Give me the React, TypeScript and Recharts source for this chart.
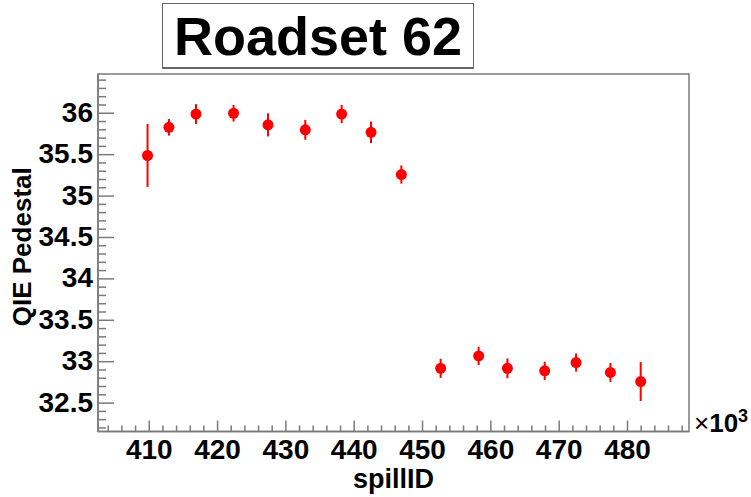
import React from "react";
import {
  ScatterChart,
  Scatter,
  XAxis,
  YAxis,
  ErrorBar,
  ReferenceArea,
} from "recharts";

// spillID in units of 10^3
const spillIds = [
  409.75, 412.88, 416.84, 422.34, 427.38, 432.84, 438.16, 442.46, 446.9,
  452.65, 458.21, 462.42, 467.88, 472.47, 477.5, 481.93,
];
const pedestal = [
  35.49, 35.83, 35.99, 36.0, 35.86, 35.8, 35.99, 35.77, 35.26,
  32.92, 33.07, 32.92, 32.89, 32.99, 32.87, 32.76,
];
const pedestalErr = [
  0.38, 0.1, 0.12, 0.1, 0.14, 0.12, 0.11, 0.13, 0.11,
  0.115, 0.11, 0.12, 0.11, 0.11, 0.115, 0.235,
];

const xMajorTicks = [410, 420, 430, 440, 450, 460, 470, 480];
const xMinorTicks = [404, 406, 408, 412, 414, 416, 418, 422, 424, 426, 428, 432, 434, 436, 438, 442, 444, 446, 448, 452, 454, 456, 458, 462, 464, 466, 468, 472, 474, 476, 478, 482, 484, 486, 488];
const yMajorTicks = [32.5, 33, 33.5, 34, 34.5, 35, 35.5, 36];
const yMinorTicks = [32.2, 32.3, 32.4, 32.6, 32.7, 32.8, 32.9, 33.1, 33.2, 33.3, 33.4, 33.6, 33.7, 33.8, 33.9, 34.1, 34.2, 34.3, 34.4, 34.6, 34.7, 34.8, 34.9, 35.1, 35.2, 35.3, 35.4, 35.6, 35.7, 35.8, 35.9, 36.1, 36.2, 36.3, 36.4];

const xDomain = [402.5, 489];
const yDomain = [32.157, 36.474];

const data = spillIds.map((x, i) => ({ x, y: pedestal[i], err: pedestalErr[i] }));

const FONT = "'Liberation Sans', Arial, Helvetica, sans-serif";
const AXIS = "#7a7a7a";

const isMajor = (v: number, list: number[]) => list.some((m) => Math.abs(m - v) < 1e-6);

const XTick = (props: any) => {
  const { x, y, payload } = props;
  const major = isMajor(payload.value, xMajorTicks);
  return (
    <g>
      <line x1={x} x2={x} y1={y} y2={y - (major ? 11 : 6)} stroke={AXIS} strokeWidth={1.5} />
      {major && (
        <text x={x} y={y + 27} textAnchor="middle" fontSize={28} fontWeight="bold" fontFamily={FONT} fill="#000">
          {payload.value}
        </text>
      )}
    </g>
  );
};

const YTick = (props: any) => {
  const { x, y, payload } = props;
  const major = isMajor(payload.value, yMajorTicks);
  return (
    <g>
      <line x1={x} x2={x + (major ? 16 : 8)} y1={y} y2={y} stroke={AXIS} strokeWidth={1.5} />
      {major && (
        <text x={x - 5} y={y + 8.5} textAnchor="end" fontSize={28} fontWeight="bold" fontFamily={FONT} fill="#000">
          {payload.value}
        </text>
      )}
    </g>
  );
};

const XLabel = (props: any) => {
  const { x, y, width } = props.viewBox;
  return (
    <g fontFamily={FONT}>
      <text x={x + width / 2} y={y + 56.5} textAnchor="middle" fontSize={27} fontWeight="bold" fill="#000">
        spillID
      </text>
      <text x={x + width + 5} y={y} fontSize={26} fill="#000">
        ×<tspan fontWeight="bold">10</tspan>
        <tspan fontSize={18} fontWeight="bold" dy={-10}>3</tspan>
      </text>
    </g>
  );
};

const YLabel = (props: any) => {
  const { x, y, height } = props.viewBox;
  const cx = x + 14;
  const cy = y + height / 2 - 6;
  return (
    <text
      x={cx}
      y={cy}
      transform={`rotate(-90 ${cx} ${cy})`}
      textAnchor="middle"
      dominantBaseline="central"
      fontSize={26}
      fontWeight="bold"
      fontFamily={FONT}
      fill="#000"
    >
      QIE Pedestal
    </text>
  );
};

const Dot = (props: any) => <circle cx={props.cx} cy={props.cy} r={5.5} fill="#ff0000" />;

export default function App() {
  return (
    <div style={{ position: "absolute", left: 0, top: 0, width: 751, height: 497, background: "#fff" }}>
      <ScatterChart width={751} height={497} margin={{ top: 74, right: 62, bottom: 5.5, left: 8 }}>
        <XAxis
          type="number"
          dataKey="x"
          domain={xDomain}
          allowDataOverflow
          ticks={[...xMajorTicks, ...xMinorTicks].sort((a, b) => a - b)}
          interval={0}
          tickSize={0}
          tickMargin={0}
          tick={<XTick />}
          tickLine={false}
          axisLine={{ stroke: AXIS, strokeWidth: 1.5 }}
          height={60}
          label={<XLabel />}
        />
        <YAxis
          type="number"
          dataKey="y"
          domain={yDomain}
          allowDataOverflow
          ticks={[...yMajorTicks, ...yMinorTicks].sort((a, b) => a - b)}
          interval={0}
          tickSize={0}
          tickMargin={0}
          tick={<YTick />}
          tickLine={false}
          axisLine={{ stroke: AXIS, strokeWidth: 1.5 }}
          width={90}
          label={<YLabel />}
        />
        <ReferenceArea
          x1={xDomain[0]}
          x2={xDomain[1]}
          y1={yDomain[0]}
          y2={yDomain[1]}
          fill="none"
          stroke={AXIS}
          strokeWidth={1.5}
          fillOpacity={0}
        />
        <Scatter data={data} shape={<Dot />} isAnimationActive={false}>
          <ErrorBar dataKey="err" direction="y" width={0} stroke="#ff0000" strokeWidth={2} isAnimationActive={false} />
        </Scatter>
      </ScatterChart>
      <div
        style={{
          position: "absolute",
          left: 162,
          top: 3,
          width: 312,
          height: 66,
          border: "1px solid #666",
          borderBottomWidth: 2,
          background: "#fff",
          boxSizing: "border-box",
          fontFamily: FONT,
          fontWeight: "bold",
          fontSize: 54,
          lineHeight: "64px",
          textAlign: "center",
          color: "#000",
        }}
      >
        Roadset 62
      </div>
    </div>
  );
}
